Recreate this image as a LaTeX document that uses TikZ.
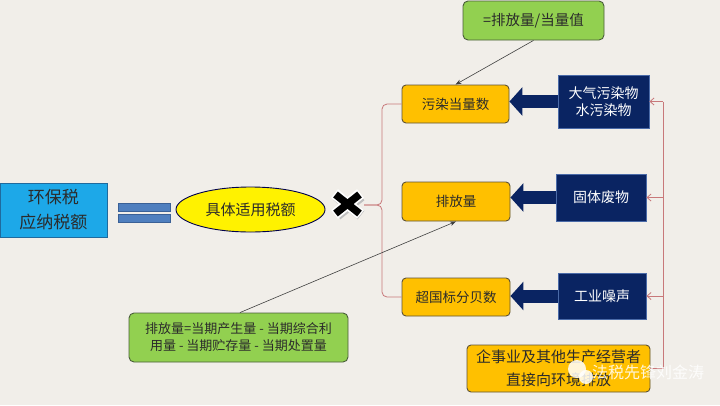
\documentclass[tikz,border=0pt]{standalone}
\usepackage{fontspec}
\setmainfont{Noto Sans CJK SC}
\usetikzlibrary{arrows.meta,shapes.geometric,calc}
\definecolor{bg}{HTML}{F1EEE9}
\definecolor{cyanbox}{HTML}{1DA8E8}
\definecolor{cyanedge}{HTML}{1F6A9E}
\definecolor{barfill}{HTML}{4F7FBF}
\definecolor{baredge}{HTML}{3A6096}
\definecolor{orangefill}{HTML}{FFC000}
\definecolor{orangeedge}{HTML}{5E5236}
\definecolor{greenfill}{HTML}{92D050}
\definecolor{greenedge}{HTML}{4A5E3A}
\definecolor{navy}{HTML}{0A2462}
\definecolor{navyedge}{HTML}{4A6AA8}
\definecolor{redline}{HTML}{C8787A}
\definecolor{darktext}{HTML}{2B2B2B}
\tikzset{
  orangebox/.style={draw=orangeedge, line width=0.9pt, fill=orangefill, rounded corners=4pt,
    text=darktext, font=\fontsize{13.5}{16}\selectfont, inner sep=0pt, align=center},
  greenbox/.style={draw=greenedge, line width=0.9pt, fill=greenfill, rounded corners=5pt,
    text=darktext, inner sep=0pt, align=center},
  navybox/.style={draw=navyedge, line width=0.9pt, fill=navy, text=white,
    font=\fontsize{14}{16.5}\selectfont, inner sep=0pt, align=center},
  blockarrow/.style={line width=13pt, draw=navy, -{Triangle[length=13pt,width=28pt]}},
  bracketline/.style={draw=redline, line width=0.8pt, rounded corners=5pt},
  busarrow/.style={draw=redline, line width=0.8pt, -{Straight Barb[length=4pt,width=7pt]}},
  noteline/.style={draw=black!75, line width=0.6pt, -{Stealth[length=6pt,width=4.5pt]}}
}
\begin{document}
\begin{tikzpicture}[x=1pt,y=-1pt]
\useasboundingbox (0,0) rectangle (720,405);
\fill[bg] (0,0) rectangle (720,405);
\clip (0,0) rectangle (720,405);

% left side
\node[draw=cyanedge, line width=0.9pt, fill=cyanbox, minimum width=107pt, minimum height=54pt,
  inner sep=0pt, align=center, text=darktext, font=\fontsize{17}{25}\selectfont]
  (tax) at (53.5,210) {环保税\\应纳税额};
\node[draw=baredge, line width=0.6pt, fill=barfill, minimum width=52pt, minimum height=8pt, inner sep=0pt]
  (eqa) at (144,207) {};
\node[draw=baredge, line width=0.6pt, fill=barfill, minimum width=52pt, minimum height=8pt, inner sep=0pt]
  (eqb) at (144,218) {};
\node[ellipse, draw=black!70!blue, line width=0.9pt, fill=yellow, minimum width=149pt, minimum height=45pt,
  inner sep=0pt, text=darktext, font=\fontsize{15}{18}\selectfont]
  (rate) at (250.5,209.5) {具体适用税额};

% multiplication mark
\coordinate (xm) at (347.5,204);
\draw[black!25, line width=11pt] ($(xm)+(-12,-9.5)+(1.5,1.5)$) -- ($(xm)+(12,9.5)+(1.5,1.5)$);
\draw[black!25, line width=11pt] ($(xm)+(-12,9.5)+(1.5,1.5)$) -- ($(xm)+(12,-9.5)+(1.5,1.5)$);
\draw[white, line width=11pt] ($(xm)+(-13,-10.5)$) -- ($(xm)+(13,10.5)$);
\draw[white, line width=11pt] ($(xm)+(-13,10.5)$) -- ($(xm)+(13,-10.5)$);
\draw[black, line width=7.5pt] ($(xm)+(-12,-9.5)$) -- ($(xm)+(12,9.5)$);
\draw[black, line width=7.5pt] ($(xm)+(-12,9.5)$) -- ($(xm)+(12,-9.5)$);
\coordinate (xr) at (364,205);

% orange boxes
\node[orangebox, minimum width=107pt, minimum height=38pt] (o1) at (455.5,104) {污染当量数};
\node[orangebox, minimum width=108pt, minimum height=39pt] (o2) at (456,201.5) {排放量};
\node[orangebox, minimum width=108pt, minimum height=38pt] (o3) at (456,297) {超国标分贝数};
\node[orangebox, minimum width=183pt, minimum height=47pt, font=\fontsize{15}{23}\selectfont]
  (o4) at (558.5,368.5) {企事业及其他生产经营者\\直接向环境排放};

% green notes
\node[greenbox, minimum width=141pt, minimum height=39pt, font=\fontsize{14.5}{17}\selectfont]
  (g1) at (533.5,20.5) {=排放量/当量值};
\node[greenbox, minimum width=219pt, minimum height=49pt, font=\fontsize{13}{17}\selectfont]
  (g2) at (238.5,337.5) {排放量=当期产生量 - 当期综合利\\用量 - 当期贮存量 - 当期处置量};

% navy boxes
\node[navybox, minimum width=91pt, minimum height=53pt] (d1) at (603.5,101.5) {大气污染物\\水污染物};
\node[navybox, minimum width=90pt, minimum height=47pt] (d2) at (601,197.5) {固体废物};
\node[navybox, minimum width=88pt, minimum height=46pt] (d3) at (602,296) {工业噪声};

% block arrows
\draw[blockarrow] (d1.west) -- (d1.west -| o1.east);
\draw[blockarrow] (d2.west) -- (d2.west -| o2.east);
\draw[blockarrow] (d3.west) -- (d3.west -| o3.east);

% left bracket
\coordinate (bk) at (382,205);
\draw[bracketline] (xr) -- (bk) |- (o1.west);
\draw[bracketline] (xr) -- (bk) |- (o3.west);

% right bus
\coordinate (bus) at (663,101.5);
\draw[draw=redline, line width=0.8pt] (o4.east) -| (bus);
\draw[busarrow] (bus) -- (d1.east);
\draw[busarrow] (bus |- d2.east) -- (d2.east);
\draw[busarrow] (bus |- d3.east) -- (d3.east);

% note connectors
\draw[noteline] (g1.south) -- (o1.north);
\draw[noteline] ($(g2.north)+(1.5,0)$) -- (o2.south);

% watermark
\fill[white, opacity=0.85] (577,369) circle (9pt);
\fill[white, opacity=0.85] (586,377) circle (7pt);
\node[text=white, opacity=0.85, font=\fontsize{16}{18}\selectfont, anchor=west, inner sep=0pt]
  (wm) at (592,372) {法税先锋刘金涛};
\end{tikzpicture}
\end{document}
